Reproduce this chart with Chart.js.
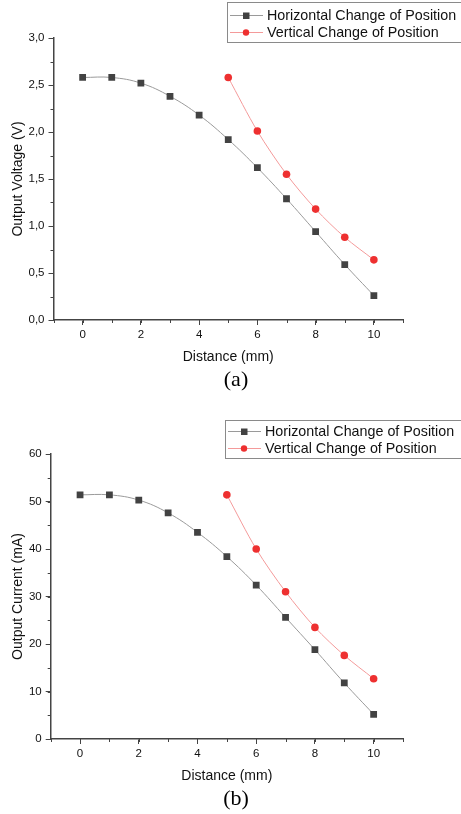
<!DOCTYPE html>
<html><head><meta charset="utf-8">
<script src="https://cdn.jsdelivr.net/npm/chart.js@4.4.0/dist/chart.umd.min.js"></script>
<style>
html,body{margin:0;padding:0;background:#fff;}
.wrap{position:relative;width:461px;height:407px;overflow:hidden;}
canvas{display:block;}
</style></head><body>
<div class="wrap"><canvas id="ca" width="461" height="407"></canvas></div>
<div class="wrap"><canvas id="cb" width="461" height="407"></canvas></div>
<script>
// ---- data ----
const distanceHorizontal = [0,1,2,3,4,5,6,7,8,9,10];
const distanceVertical = [5,6,7,8,9,10];
const voltageHorizontal = [2.58,2.58,2.52,2.38,2.18,1.92,1.62,1.29,0.94,0.59,0.26];
const voltageVertical = [2.58,2.01,1.55,1.18,0.88,0.64];
const currentHorizontal = [51.4,51.4,50.3,47.6,43.5,38.4,32.4,25.6,18.8,11.8,5.2];
const currentVertical = [51.4,40.0,31.0,23.5,17.6,12.7];
const seriesLabels = ['Horizontal Change of Position','Vertical Change of Position'];
const xTickLabels = ['0','2','4','6','8','10'];
const voltageTickLabels = ['0,0','0,5','1,0','1,5','2,0','2,5','3,0'];
const currentTickLabels = ['0','10','20','30','40','50','60'];
const captions = ['(a)','(b)'];

const FONT = 'Liberation Sans, Arial, sans-serif';
const AXIS = '#444';

function pts(xs, ys){ return xs.map((x,i)=>({x:x, y:ys[i]})); }

const minorTicks = {
  id:'minorTicks',
  afterDraw(chart, args, o){
    const ctx = chart.ctx, xs = chart.scales.x, ys = chart.scales.y;
    ctx.save(); ctx.strokeStyle = AXIS; ctx.lineWidth = 1;
    ctx.beginPath();
    for (let v = xs.min; v <= xs.max + 1e-9; v += o.xStep){
      const px = Math.round(xs.getPixelForValue(v)) + 0.5;
      ctx.moveTo(px, ys.bottom); ctx.lineTo(px, ys.bottom + 3);
    }
    for (let v = ys.min; v <= ys.max + 1e-9; v += o.yStep){
      const py = Math.round(ys.getPixelForValue(v)) + 0.5;
      ctx.moveTo(xs.left, py); ctx.lineTo(xs.left - 3, py);
    }
    ctx.stroke(); ctx.restore();
  }
};

const boxLegend = {
  id:'boxLegend',
  afterDraw(chart, args, o){
    const ctx = chart.ctx;
    ctx.save();
    ctx.fillStyle = '#fff'; ctx.strokeStyle = '#8a8a8a'; ctx.lineWidth = 1;
    ctx.fillRect(o.left, o.top, o.width, o.height);
    ctx.strokeRect(o.left + 0.5, o.top + 0.5, o.width, o.height);
    chart.data.datasets.forEach((ds, i) => {
      const y = o.top + o.rows[i];
      ctx.strokeStyle = ds.borderColor; ctx.lineWidth = 1;
      ctx.beginPath(); ctx.moveTo(o.left + 3, y + 0.5); ctx.lineTo(o.left + 36, y + 0.5); ctx.stroke();
      ctx.fillStyle = ds.pointBackgroundColor;
      ctx.beginPath();
      if (ds.pointStyle === 'rect') ctx.rect(o.left + 16, y - 2.5, 6.5, 6.5);
      else ctx.arc(o.left + 19, y + 0.5, 3.2, 0, Math.PI*2);
      ctx.fill();
      ctx.fillStyle = '#111'; ctx.font = '14.3px ' + FONT;
      ctx.textBaseline = 'middle'; ctx.textAlign = 'left';
      ctx.fillText(ds.label, o.left + 40, y + 1);
    });
    ctx.restore();
  }
};

const caption = {
  id:'caption',
  afterDraw(chart, args, o){
    const ctx = chart.ctx;
    ctx.save();
    ctx.fillStyle = '#000'; ctx.font = '22px "Liberation Serif", "Times New Roman", serif';
    ctx.textAlign = 'center'; ctx.textBaseline = 'middle';
    ctx.fillText(o.text, o.x, chart.chartArea.bottom + o.dy);
    ctx.restore();
  }
};

function makeChart(id, cfg){
  return new Chart(document.getElementById(id), {
    type:'line',
    data:{ datasets:[
      { label: seriesLabels[0], data: pts(distanceHorizontal, cfg.h),
        borderColor:'#9a9a9a', borderWidth:1, tension:0.4,
        pointStyle:'rect', pointRadius:4.8, pointBackgroundColor:'#424242', pointBorderWidth:0 },
      { label: seriesLabels[1], data: pts(distanceVertical, cfg.v),
        borderColor:'#f49a9a', borderWidth:1, tension:0.3,
        pointStyle:'circle', pointRadius:3.8, pointBackgroundColor:'#ee3030', pointBorderWidth:0 }
    ]},
    options:{
      responsive:false, animation:false, devicePixelRatio:1,
      layout:{ padding:{ top: cfg.top, right: 58, left: 0, bottom: 0 } },
      plugins:{
        legend:{display:false}, tooltip:{enabled:false},
        boxLegend: cfg.legend,
        minorTicks:{ xStep:1, yStep: cfg.yStep/2 },
        caption:{ text: cfg.caption, x: 236, dy: 60 }
      },
      scales:{
        x:{ type:'linear', min:-1, max:11,
          afterBuildTicks: s => { s.ticks = xTickLabels.map(t => ({value: Number(t)})); },
          ticks:{ autoSkip:false, maxRotation:0, padding:3, color:'#111',
            font:{family:FONT, size:11.5}, callback:(v,i)=>xTickLabels[i] },
          grid:{ drawOnChartArea:false, tickLength:5, tickColor:AXIS, tickWidth:1 },
          border:{ display:true, color:AXIS, width:1.5 },
          title:{ display:true, text:'Distance (mm)', color:'#111',
            font:{family:FONT, size:14}, padding:{top:0, bottom: cfg.xTitlePad} },
          afterFit: s => { s.height = cfg.bottomH; }
        },
        y:{ min:0, max: cfg.yMax,
          afterBuildTicks: s => { s.ticks = cfg.yLabels.map((t,i) => ({value: i*cfg.yStep})); },
          ticks:{ autoSkip:false, padding:4, color:'#111',
            font:{family:FONT, size:11.5}, callback:(v,i)=>cfg.yLabels[i] },
          grid:{ drawOnChartArea:false, tickLength:5, tickColor:AXIS, tickWidth:1 },
          border:{ display:true, color:AXIS, width:1.5 },
          title:{ display:true, text: cfg.yTitle, color:'#111',
            font:{family:FONT, size:14}, padding:{top:9.6, bottom:0} },
          afterFit: s => { s.width = cfg.leftW; }
        }
      }
    },
    plugins:[minorTicks, caption, boxLegend]
  });
}

makeChart('ca', { h: voltageHorizontal, v: voltageVertical, top: 38, bottomH: 87, leftW: 53.5,
  yMax: 3, yStep: 0.5, yLabels: voltageTickLabels, yTitle: 'Output Voltage (V)', xTitlePad: 41.6,
  caption: captions[0], legend:{ left:227, top:2, width:260, height:40, rows:[13, 30] } });
makeChart('cb', { h: currentHorizontal, v: currentVertical, top: 47, bottomH: 75, leftW: 50.7,
  yMax: 60, yStep: 10, yLabels: currentTickLabels, yTitle: 'Output Current (mA)', xTitlePad: 29.9,
  caption: captions[1], legend:{ left:225, top:13, width:260, height:38, rows:[11, 28] } });
</script>
</body></html>
